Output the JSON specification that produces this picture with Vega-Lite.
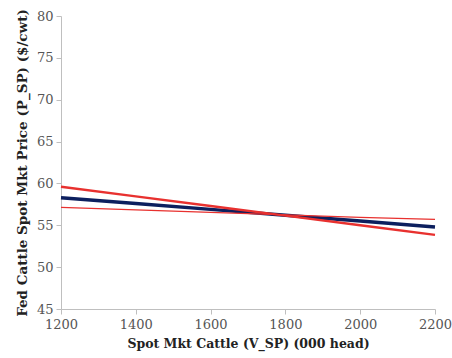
{
  "$schema": "https://vega.github.io/schema/vega-lite/v6.json",
  "width": 374,
  "height": 293,
  "autosize": "none",
  "padding": {"left": 61, "top": 16, "right": 17, "bottom": 49},
  "background": "white",
  "config": {
    "view": {"stroke": null},
    "axis": {
      "grid": false,
      "domainColor": "#bfbfbf",
      "tickColor": "#bfbfbf",
      "labelFont": "DejaVu Serif",
      "labelFontSize": 13,
      "labelColor": "#555555",
      "titleFont": "DejaVu Serif",
      "titleFontWeight": "bold",
      "titleColor": "#222222"
    }
  },
  "data": {
    "values": [
      {"x": 1200, "y": 58.3, "s": "mean"},
      {"x": 1400, "y": 57.6, "s": "mean"},
      {"x": 1600, "y": 56.9, "s": "mean"},
      {"x": 1800, "y": 56.2, "s": "mean"},
      {"x": 2000, "y": 55.5, "s": "mean"},
      {"x": 2200, "y": 54.8, "s": "mean"},
      {"x": 1200, "y": 59.6, "s": "a"},
      {"x": 1400, "y": 58.45, "s": "a"},
      {"x": 1600, "y": 57.3, "s": "a"},
      {"x": 1800, "y": 56.15, "s": "a"},
      {"x": 2000, "y": 55.0, "s": "a"},
      {"x": 2200, "y": 53.85, "s": "a"},
      {"x": 1200, "y": 57.15, "s": "b"},
      {"x": 1400, "y": 56.85, "s": "b"},
      {"x": 1600, "y": 56.55, "s": "b"},
      {"x": 1800, "y": 56.25, "s": "b"},
      {"x": 2000, "y": 55.95, "s": "b"},
      {"x": 2200, "y": 55.7, "s": "b"}
    ]
  },
  "mark": {"type": "line"},
  "encoding": {
    "x": {
      "field": "x", "type": "quantitative",
      "scale": {"domain": [1200, 2200], "nice": false, "zero": false},
      "axis": {"values": [1200, 1400, 1600, 1800, 2000, 2200], "format": "d", "labelFlush": false, "title": "Spot Mkt Cattle (V_SP) (000 head)", "titleFontSize": 12.5, "labelPadding": 4, "titlePadding": 6, "tickSize": 5}
    },
    "y": {
      "field": "y", "type": "quantitative",
      "scale": {"domain": [45, 80], "nice": false, "zero": false},
      "axis": {"values": [45, 50, 55, 60, 65, 70, 75, 80], "labelFlush": false, "title": "Fed Cattle Spot Mkt Price (P_SP) ($/cwt)", "titleFontSize": 13.5, "labelPadding": 3, "titlePadding": 7, "tickSize": 5}
    },
    "detail": {"field": "s"},
    "color": {
      "field": "s", "type": "nominal",
      "scale": {"domain": ["mean", "a", "b"], "range": ["#0c1f5e", "#e8312f", "#e8312f"]},
      "legend": null
    },
    "strokeWidth": {
      "field": "s", "type": "nominal",
      "scale": {"domain": ["mean", "a", "b"], "range": [3.5, 1.3, 1.3]},
      "legend": null
    },
    "order": {"field": "x"}
  }
}
